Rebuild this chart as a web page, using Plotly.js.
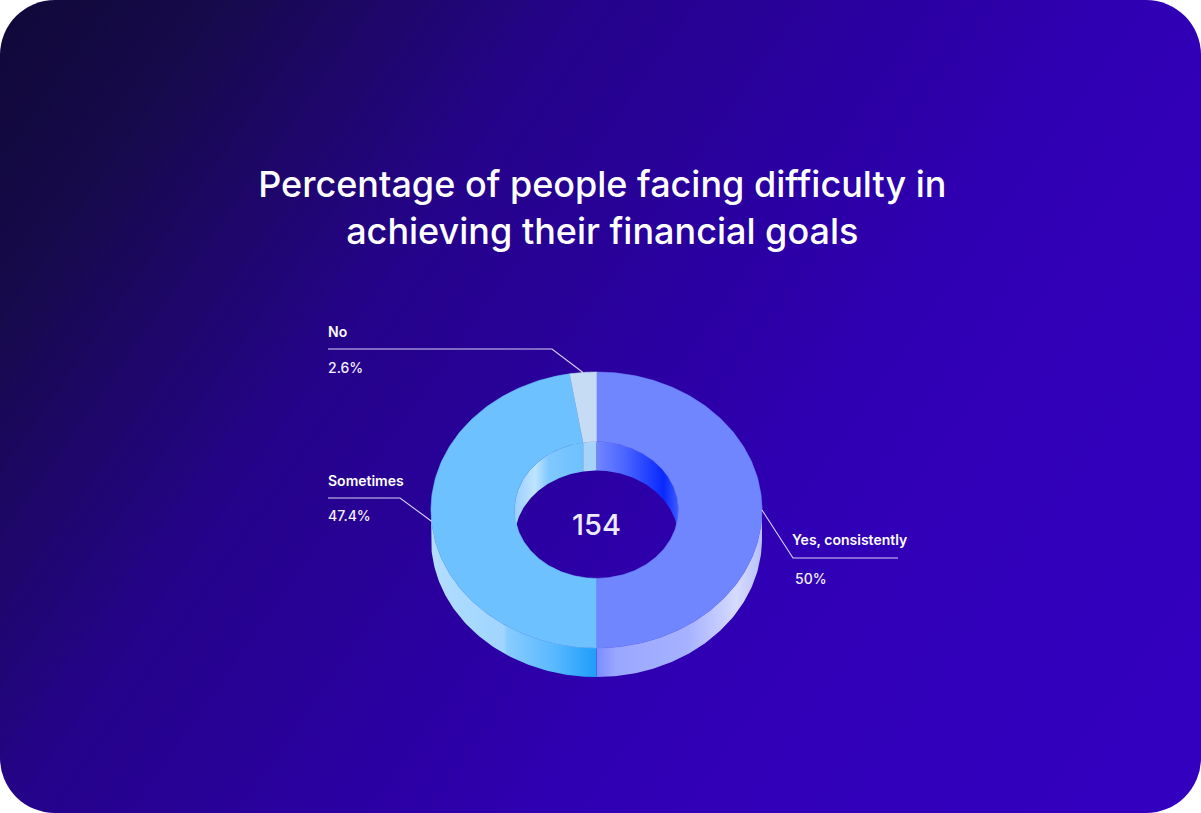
<!DOCTYPE html>
<html>
<head>
<meta charset="utf-8">
<script src="https://cdn.plot.ly/plotly-3.0.1.min.js"></script>
<style>
  html, body { margin: 0; padding: 0; background: #ffffff; }
  #card {
    width: 1201px; height: 813px; border-radius: 55px; overflow: hidden;
    background: linear-gradient(125deg, #100838 0%, #160A4A 12%, #25038A 33%, #2A00A0 50%, #3000B5 66%, #3300C0 100%);
  }
  #chart { width: 1201px; height: 813px; }
</style>
</head>
<body>
<div id="card"><div id="chart"></div></div>
<script>
// ---- data ----
const categories = ['Yes, consistently', 'Sometimes', 'No'];
const percents = [50, 47.4, 2.6];
const valueLabels = ['50%', '47.4%', '2.6%'];
const totalRespondents = 154;
const titleText = 'Percentage of people facing difficulty in<br>achieving their financial goals';

// ---- styles ----
const topColors = ['#7086FE', '#6EC1FF', '#C5DCF4'];
const outerWallScales = [
  [[0, '#7C8CFF'], [0.12, '#9AA7FF'], [0.55, '#A6B2FF'], [0.85, '#D6DBFF'], [1, '#B6C0FF']],
  [[0, '#B2DDFF'], [0.44, '#A0D5FF'], [0.46, '#88CCFF'], [0.75, '#58B8FF'], [1, '#1E9DFA']],
  [[0, '#C5DCF4'], [1, '#C5DCF4']]
];
const innerWallScales = [
  [[0, '#7286FF'], [0.35, '#4A64FF'], [0.82, '#0828FF'], [1, '#3E5CFF']],
  [[0, '#9CCFFF'], [0.3, '#BFE4FF'], [0.5, '#80C8FF'], [1, '#6CC0FF']],
  [[0, '#A6D3FA'], [1, '#A6D3FA']]
];
// label layout
const labelLayout = [
  {side: 'right', textX: 790, nameY: 539, valueX: 793, valueY: 578, lineY: 558, elbowX: 793, endX: 898},
  {side: 'left',  textX: 326, nameY: 480, valueX: 326, valueY: 515, lineY: 498, elbowX: 400, endX: 328},
  {side: 'left',  textX: 326, nameY: 331, valueX: 326, valueY: 367, lineY: 349, elbowX: 552, endX: 328}
];

// ---- geometry of the donut (pixels) ----
const cx = 596.5, cy = 510, rx = 165.5, ry = 138, rxi = 82, ryi = 68.4, depth = 29;
const rad = d => d * Math.PI / 180;

function arc(rxv, ryv, a0, a1, dy, xs, ys) {
  const n = Math.max(2, Math.ceil(Math.abs(a1 - a0)));
  for (let k = 0; k <= n; k++) {
    const t = rad(a0 + (a1 - a0) * k / n);
    xs.push(cx + rxv * Math.sin(t));
    ys.push(cy - ryv * Math.cos(t) + dy);
  }
}
function intersect(a, b, lo, hi) {
  const s = Math.max(a, lo), e = Math.min(b, hi);
  return e > s ? [s, e] : null;
}

const sum = percents.reduce((p, c) => p + c, 0);
const slices = [];
let acc = 0;
percents.forEach((v, i) => {
  const a = acc / sum * 360;
  acc += v;
  const b = acc / sum * 360;
  slices.push({i, a, b, mid: (a + b) / 2});
});

const innerTraces = [], outerTraces = [], topTraces = [], lineTraces = [];

function wallTrace(rxv, ryv, seg, scale) {
  const xs = [], ys = [];
  arc(rxv, ryv, seg[0], seg[1], 0, xs, ys);
  arc(rxv, ryv, seg[1], seg[0], depth, xs, ys);
  const xmin = Math.min(...xs), xmax = Math.max(...xs);
  return {
    type: 'scatter', mode: 'lines', x: xs, y: ys, fill: 'toself',
    line: {width: 0, color: 'rgba(0,0,0,0)'},
    fillgradient: {type: 'horizontal', colorscale: scale, start: xmin, stop: xmax},
    hoverinfo: 'skip', showlegend: false
  };
}

slices.forEach(s => {
  // inner (back) walls visible through the hole
  [[0, 90], [270, 360]].forEach(r => {
    const seg = intersect(s.a, s.b, r[0], r[1]);
    if (seg) innerTraces.push(wallTrace(rxi, ryi, seg, innerWallScales[s.i]));
  });
  // outer (front) walls
  const seg = intersect(s.a, s.b, 90, 270);
  if (seg) outerTraces.push(wallTrace(rx, ry, seg, outerWallScales[s.i]));
  // top face
  const xs = [], ys = [];
  arc(rx, ry, s.a, s.b, 0, xs, ys);
  arc(rxi, ryi, s.b, s.a, 0, xs, ys);
  topTraces.push({
    type: 'scatter', mode: 'lines', x: xs, y: ys, fill: 'toself',
    fillcolor: topColors[s.i], line: {width: 0.6, color: topColors[s.i]},
    hoverinfo: 'skip', showlegend: false, name: categories[s.i]
  });
  // leader line from the rim at the slice's mid angle
  const L = labelLayout[s.i];
  const t = rad(s.mid);
  const ax = cx + rx * Math.sin(t);
  const ay = cy - ry * Math.cos(t);
  let lx, ly;
  if (L.side === 'left') { lx = [L.endX, L.elbowX, ax]; ly = [L.lineY, L.lineY, ay]; }
  else { lx = [ax, L.elbowX, L.endX]; ly = [ay, L.lineY, L.lineY]; }
  lineTraces.push({
    type: 'scatter', mode: 'lines', x: lx, y: ly,
    line: {width: 1.1, color: 'rgba(235,232,255,0.9)'},
    hoverinfo: 'skip', showlegend: false
  });
});

const annotations = [];
slices.forEach(s => {
  const L = labelLayout[s.i];
  annotations.push({
    x: L.textX, y: L.nameY, xref: 'x', yref: 'y', xanchor: 'left', yanchor: 'middle',
    text: categories[s.i], showarrow: false,
    font: {family: 'Inter, Roboto, sans-serif', size: 14, color: '#FFFFFF', weight: 600}
  });
  annotations.push({
    x: L.valueX, y: L.valueY, xref: 'x', yref: 'y', xanchor: 'left', yanchor: 'middle',
    text: valueLabels[s.i], showarrow: false,
    font: {family: 'Inter, Roboto, sans-serif', size: 14, color: '#F2F0FF', weight: 500}
  });
});
annotations.push({
  x: cx, y: 524, xref: 'x', yref: 'y', xanchor: 'center', yanchor: 'middle',
  text: String(totalRespondents), showarrow: false,
  font: {family: 'Inter, Roboto, sans-serif', size: 29, color: '#EEEAFF', weight: 500}
});

const layout = {
  width: 1201, height: 813,
  margin: {l: 0, r: 0, t: 0, b: 0, pad: 0},
  paper_bgcolor: 'rgba(0,0,0,0)', plot_bgcolor: 'rgba(0,0,0,0)',
  title: {
    text: titleText, x: 0.5015, xanchor: 'center', y: 1 - 197 / 813, yanchor: 'middle',
    yref: 'container',
    font: {family: 'Inter, Roboto, sans-serif', size: 36, color: '#FFFFFF', weight: 500}
  },
  xaxis: {range: [0, 1201], visible: false, fixedrange: true},
  yaxis: {range: [813, 0], visible: false, fixedrange: true},
  annotations: annotations,
  showlegend: false
};

Plotly.newPlot('chart', [...innerTraces, ...outerTraces, ...topTraces, ...lineTraces], layout,
  {displayModeBar: false, staticPlot: true});
</script>
</body>
</html>
